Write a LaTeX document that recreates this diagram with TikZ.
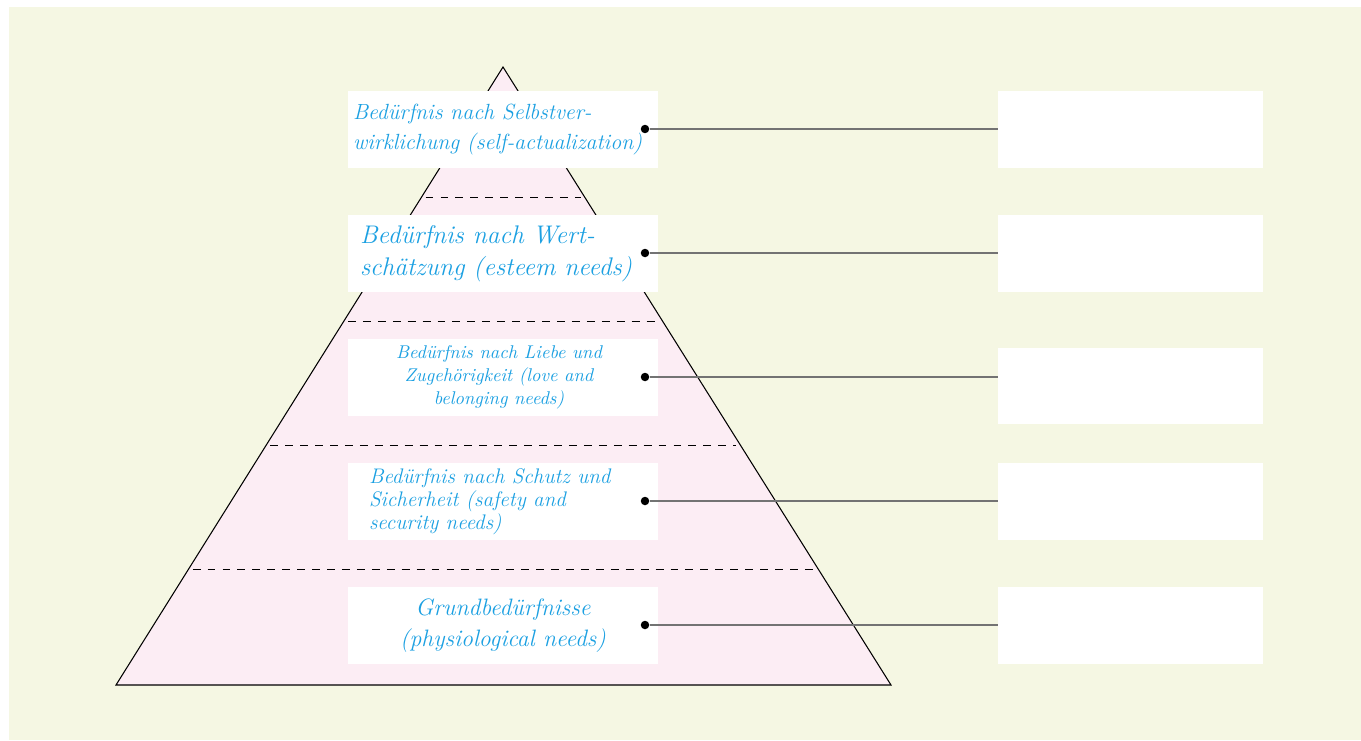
\documentclass[tikz,border=0pt]{standalone}
\usepackage{tikz}
\usetikzlibrary{calc,positioning}
\definecolor{bgyellow}{RGB}{245,247,227}
\definecolor{pyrpink}{RGB}{252,237,244}
\definecolor{handblue}{RGB}{27,160,226}

\begin{document}
\begin{tikzpicture}[x=0.02cm,y=-0.02cm,
	lbox/.style={rectangle, fill=white, minimum width=6.2cm, minimum height=1.54cm, inner sep=0},
	rbox/.style={rectangle, fill=white, minimum width=5.3cm, minimum height=1.54cm, inner sep=0},
	hand/.style={text=handblue, inner sep=0},
	dot/.style={circle, fill=black, minimum size=0.17cm, inner sep=0},
	link/.style={line width=1pt, black!55}]
	% background
	\useasboundingbox (0,0) rectangle (1361,740);
	\fill[bgyellow] (9,7) rectangle (1361,740);

	% pyramid with its level lines
	\coordinate (apex) at (503,67);
	\coordinate (bl) at (116,685);
	\coordinate (br) at (891,685);
	\draw[line width=0.6pt, fill=pyrpink] (bl) -- (apex) -- (br) -- cycle;
	\foreach \t in {0.2104,0.411,0.6117,0.8123} {
		\draw[line width=0.5pt, dash pattern=on 4.5pt off 4pt, shorten <=0.08cm, shorten >=0.08cm] ($(apex)!\t!(bl)$) -- ($(apex)!\t!(br)$);
	}

	% label boxes and answer boxes
	\foreach \i/\y/\ry in {1/129.5/129.5,2/253.5/253.5,3/377.5/386,4/501.5/501.5,5/625.5/625.5} {
		\node[lbox] (l\i) at (503,\y) {};
		\node[rbox] (r\i) at (1130.5,\ry) {};
	}

	% texts
	\node[hand, anchor=west, align=left, font=\itshape\fontsize{12.5}{17.6}\selectfont] (t1) at ([xshift=0.1cm]l1.west) {Bedürfnis nach Selbstver-\\wirklichung (self-actualization)};
	\node[hand, anchor=west, align=left, font=\itshape\fontsize{14.5}{18}\selectfont] (t2) at ([xshift=0.24cm]l2.west) {Bedürfnis nach Wert-\\schätzung (esteem needs)};
	\node[hand, align=center, font=\itshape\fontsize{10.5}{13}\selectfont] (t3) at ([xshift=-0.08cm]l3) {Bedürfnis nach Liebe und\\Zugehörigkeit (love and\\belonging needs)};
	\node[hand, anchor=west, align=left, font=\itshape\fontsize{12}{13}\selectfont] (t4) at ([xshift=0.42cm]l4.west) {Bedürfnis nach Schutz und\\Sicherheit (safety and\\security needs)};
	\node[hand, align=center, font=\itshape\fontsize{13.5}{17.6}\selectfont] (t5) at (l5) {Grundbedürfnisse\\(physiological needs)};

	% connectors
	\foreach \i in {1,...,5} {
		\node[dot] (d\i) at (645,{129+124*(\i-1)}) {};
		\draw[link] (d\i.east) -- (d\i -| r\i.west);
	}
\end{tikzpicture}
\end{document}
